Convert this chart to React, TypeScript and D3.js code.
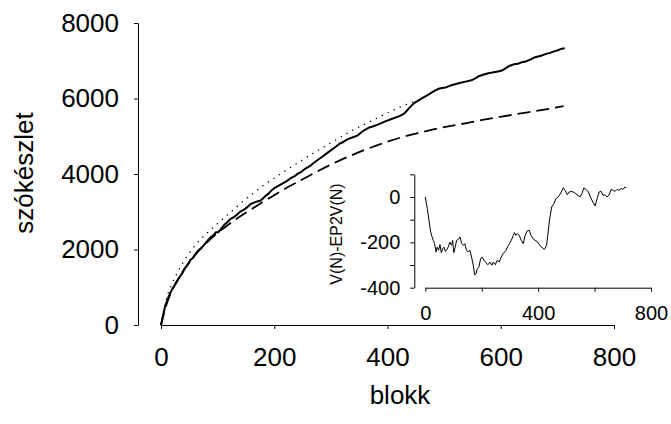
import { useEffect, useRef } from "react";
import * as d3 from "d3";

// main chart: block number vs vocabulary size
const mainTicksX = [0, 200, 400, 600, 800];
const mainTicksY = [0, 2000, 4000, 6000, 8000];

// observed V(N), solid line (same blocks as the inset)
const blocks = [
  0, 7, 13, 19, 24, 28, 33, 38, 42, 47, 52, 57, 61, 66, 71, 75, 81, 87, 93, 97,
  101, 106, 111, 117, 123, 129, 135, 140, 146, 152, 158, 164, 170, 175, 180,
  184, 190, 196, 201, 208, 215, 222, 229, 236, 241, 248, 255, 262, 269, 276,
  286, 295, 305, 312, 316, 321, 326, 333, 340, 347, 354, 361, 368, 375, 382,
  389, 396, 406, 415, 422, 430, 434, 441, 448, 456, 463, 470, 475, 482, 489,
  496, 503, 510, 519, 529, 538, 548, 555, 562, 569, 578, 585, 595, 602, 609,
  616, 623, 630, 637, 644, 652, 659, 666, 673, 680, 687, 694, 701, 708, 713,
];
const observed = [
  0, 480, 734, 927, 1048, 1147, 1274, 1380, 1501, 1592, 1722, 1791, 1888, 1975,
  2036, 2105, 2213, 2316, 2383, 2459, 2457, 2547, 2642, 2724, 2813, 2861, 2932,
  3004, 3050, 3117, 3200, 3241, 3274, 3290, 3352, 3414, 3481, 3578, 3635, 3691,
  3750, 3810, 3889, 3941, 4003, 4057, 4144, 4201, 4286, 4364, 4469, 4572, 4682,
  4763, 4809, 4840, 4889, 4942, 4979, 5017, 5106, 5178, 5233, 5264, 5301, 5347,
  5394, 5449, 5500, 5541, 5607, 5675, 5791, 5888, 5955, 6026, 6084, 6130, 6193,
  6251, 6277, 6293, 6336, 6379, 6417, 6447, 6481, 6533, 6597, 6630, 6669, 6686,
  6717, 6740, 6806, 6869, 6905, 6921, 6958, 6981, 7029, 7085, 7112, 7141, 7182,
  7209, 7249, 7278, 7320, 7331,
];

// EP2V(N), dotted line
const ep2vBlocks = [
  0, 10, 20, 40, 60, 80, 100, 120, 140, 160, 180, 200, 220, 240, 260, 280, 300,
  320, 340, 360, 380, 400, 420, 440, 455,
];
const ep2v = [
  0, 720, 1110, 1680, 2100, 2420, 2690, 2950, 3210, 3460, 3690, 3890, 4090,
  4280, 4470, 4650, 4830, 5000, 5170, 5320, 5470, 5620, 5760, 5880, 5965,
];

// second model, dashed line
const modelBlocks = [
  0, 10, 20, 40, 60, 80, 100, 120, 140, 160, 180, 200, 225, 250, 275, 300, 334,
  360, 393, 422, 452, 481, 510, 540, 570, 599, 630, 658, 690, 711,
];
const model = [
  0, 560, 930, 1450, 1850, 2170, 2440, 2670, 2880, 3070, 3260, 3440, 3660, 3860,
  4060, 4250, 4480, 4640, 4820, 4960, 5077, 5180, 5270, 5350, 5440, 5515, 5590,
  5660, 5740, 5800,
];

// inset: V(N) - EP2V(N)
const insetTicksX = [0, 200, 400, 600, 800];
const insetTicksY = [-400, -300, -200, -100, 0, 100];
const difference = [
  0, -51, -103, -154, -176, -191, -206, -243, -221, -235, -210, -246, -228,
  -221, -240, -235, -221, -199, -213, -191, -246, -221, -191, -187, -176, -206,
  -213, -206, -235, -243, -235, -265, -301, -343, -338, -316, -309, -272, -265,
  -279, -290, -299, -287, -301, -287, -299, -279, -287, -265, -250, -235, -213,
  -191, -169, -157, -169, -162, -169, -191, -206, -169, -150, -147, -169, -184,
  -191, -196, -213, -225, -231, -213, -169, -96, -44, -29, -7, -1, 7, 22, 41,
  29, 10, 22, 25, 19, 10, 0, 15, 40, 34, 22, 0, -25, -40, -7, 22, 25, 7, 10, 0,
  10, 34, 29, 25, 34, 29, 37, 34, 44, 41,
];

const FONT = "'Liberation Sans', Arial, sans-serif";

export default function App() {
  const ref = useRef<SVGSVGElement | null>(null);

  useEffect(() => {
    const svg = d3.select(ref.current);
    svg.selectAll("*").remove();

    const x = d3.scaleLinear().domain([0, 800]).range([161, 614]);
    const y = d3.scaleLinear().domain([0, 8000]).range([325, 23]);

    const styleAxis = (g: any, size: number) => {
      g.select(".domain").attr("stroke", "#000").attr("stroke-width", 1);
      g.selectAll(".tick line").attr("stroke", "#000");
      g.selectAll("text")
        .attr("font-family", FONT)
        .attr("font-size", size)
        .attr("fill", "#000");
    };

    svg
      .append("g")
      .attr("transform", "translate(0,325)")
      .call(
        d3.axisBottom(x).tickValues(mainTicksX).tickSize(4).tickSizeOuter(0).tickPadding(19).tickFormat((d) => String(d))
      )
      .call((g) => styleAxis(g, 26));

    svg
      .append("g")
      .attr("transform", "translate(138,0)")
      .call(
        d3.axisLeft(y).tickValues(mainTicksY).tickSize(4).tickSizeOuter(0).tickPadding(15).tickFormat((d) => String(d))
      )
      .call((g) => styleAxis(g, 26));

    svg
      .append("text")
      .attr("x", 400)
      .attr("y", 404)
      .attr("text-anchor", "middle")
      .attr("font-family", FONT)
      .attr("font-size", 26)
      .text("blokk");

    svg
      .append("text")
      .attr("transform", "translate(33,173) rotate(-90)")
      .attr("text-anchor", "middle")
      .attr("font-family", FONT)
      .attr("font-size", 26)
      .text("szókészlet");

    const dashedLine = d3
      .line<number>()
      .x((_, i) => x(modelBlocks[i]))
      .y((d) => y(d))
      .curve(d3.curveMonotoneX);
    svg
      .append("path")
      .attr("d", dashedLine(model))
      .attr("fill", "none")
      .attr("stroke", "#000")
      .attr("stroke-width", 1.8)
      .attr("stroke-dasharray", "13,6");

    const dottedLine = d3
      .line<number>()
      .x((_, i) => x(ep2vBlocks[i]))
      .y((d) => y(d))
      .curve(d3.curveMonotoneX);
    svg
      .append("path")
      .attr("d", dottedLine(ep2v))
      .attr("fill", "none")
      .attr("stroke", "#000")
      .attr("stroke-width", 1.4)
      .attr("stroke-linecap", "round")
      .attr("stroke-dasharray", "0.1,6.5");

    const solidLine = d3
      .line<number>()
      .x((_, i) => x(blocks[i]))
      .y((d) => y(d));
    svg
      .append("path")
      .attr("d", solidLine(observed))
      .attr("fill", "none")
      .attr("stroke", "#000")
      .attr("stroke-width", 2)
      .attr("stroke-linejoin", "round");

    // inset
    const ix = d3.scaleLinear().domain([0, 800]).range([425.3, 651]);
    const iy = d3.scaleLinear().domain([-400, 100]).range([287.7, 174.3]);

    svg
      .append("g")
      .attr("transform", "translate(0,287.7)")
      .call(
        d3
          .axisBottom(ix)
          .tickValues(insetTicksX)
          .tickSize(4)
          .tickSizeOuter(0)
          .tickPadding(14)
          .tickFormat((d) => (+d % 400 === 0 ? String(d) : ""))
      )
      .call((g) => styleAxis(g, 20));

    svg
      .append("g")
      .attr("transform", "translate(414.3,0)")
      .call(
        d3
          .axisLeft(iy)
          .tickValues(insetTicksY)
          .tickSize(4)
          .tickSizeOuter(0)
          .tickPadding(10)
          .tickFormat((d) => (+d % 200 === 0 ? String(d) : ""))
      )
      .call((g) => styleAxis(g, 20));

    svg
      .append("text")
      .attr("transform", "translate(342,234) rotate(-90)")
      .attr("text-anchor", "middle")
      .attr("font-family", FONT)
      .attr("font-size", 16)
      .text("V(N)-EP2V(N)");

    const insetLine = d3
      .line<number>()
      .x((_, i) => ix(blocks[i]))
      .y((d) => iy(d));
    svg
      .append("path")
      .attr("d", insetLine(difference))
      .attr("fill", "none")
      .attr("stroke", "#000")
      .attr("stroke-width", 1)
      .attr("stroke-linejoin", "round");
  }, []);

  return (
    <svg
      ref={ref}
      width={671}
      height={424}
      style={{ position: "absolute", left: 0, top: 0, background: "#fff" }}
    />
  );
}
